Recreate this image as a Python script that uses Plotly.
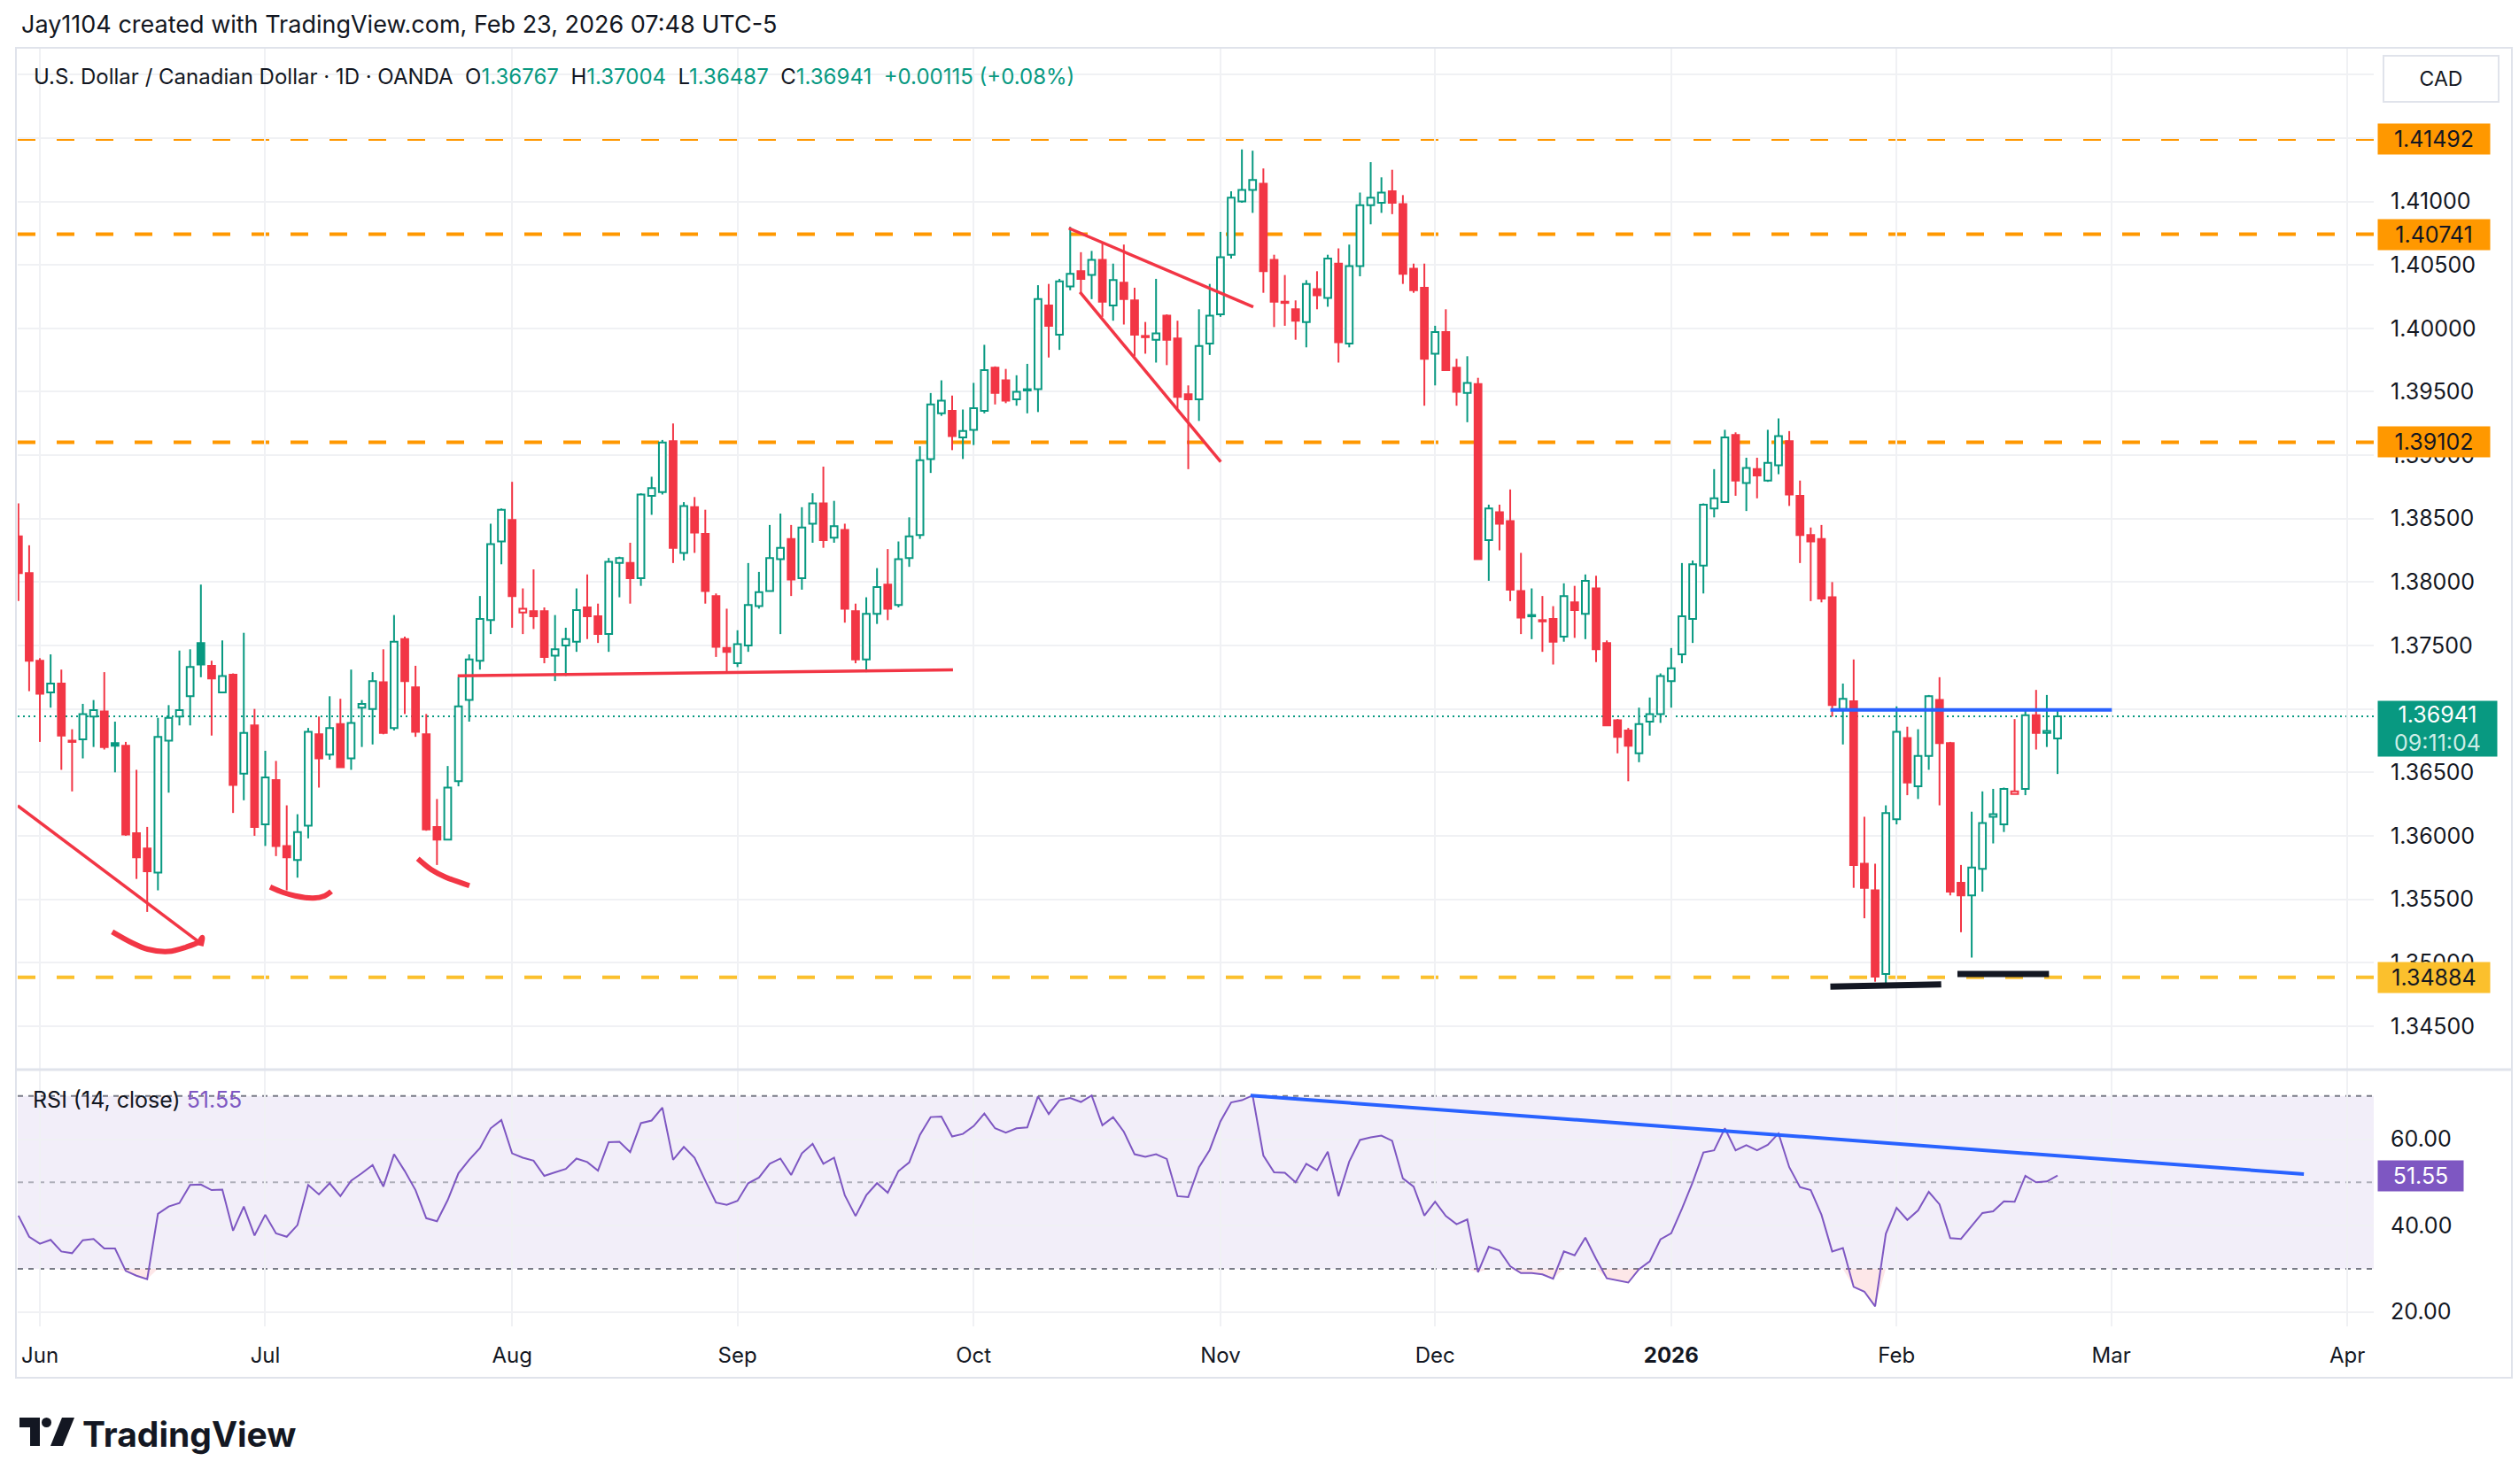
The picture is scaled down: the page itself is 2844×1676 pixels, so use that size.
import plotly.graph_objects as go
import pandas as pd

# ---------------- data ----------------
FIRST_DAY = "2025-05-29"
LAST_AXIS_DAY = "2026-04-03"
HOLIDAYS = ["2025-12-25", "2026-01-01"]

opens = [1.3836,1.3807,1.3738,1.3713,1.3720,1.3675,1.3676,1.3694,1.3698,1.3673,
1.3671,1.3602,1.3590,1.3571,1.3675,1.3694,1.3710,1.3752,1.3734,1.3713,
1.3727,1.3649,1.3687,1.3609,1.3644,1.3592,1.3581,1.3608,1.3680,1.3664,
1.3688,1.3661,1.3701,1.3700,1.3721,1.3685,1.3755,1.3717,1.3680,1.3607,
1.3597,1.3643,1.3707,1.3738,1.3770,1.3832,1.3849,1.3776,1.3777,1.3777,
1.3742,1.3750,1.3753,1.3780,1.3773,1.3759,1.3815,1.3815,1.3803,1.3868,
1.3871,1.3911,1.3823,1.3859,1.3838,1.3789,1.3748,1.3736,1.3750,1.3781,
1.3793,1.3818,1.3834,1.3803,1.3846,1.3862,1.3835,1.3841,1.3777,1.3739,
1.3775,1.3798,1.3782,1.3819,1.3837,1.3897,1.3933,1.3935,1.3914,1.3920,
1.3935,1.3969,1.3959,1.3944,1.3951,1.3952,1.4018,1.3995,1.4033,1.4045,
1.4042,1.4054,1.4018,1.4036,1.4022,1.3994,1.3991,1.4010,1.3992,1.3948,
1.3944,1.3988,1.4011,1.4058,1.4100,1.4109,1.4114,1.4054,1.4021,1.4015,
1.4005,1.4031,1.4024,1.4051,1.3988,1.4049,1.4097,1.4099,1.4108,1.4098,
1.4047,1.4032,1.3980,1.3997,1.3969,1.3949,1.3956,1.3833,1.3855,1.3848,
1.3793,1.3773,1.3770,1.3771,1.3757,1.3784,1.3775,1.3795,1.3752,1.3691,
1.3683,1.3665,1.3690,1.3696,1.3722,1.3743,1.3771,1.3813,1.3858,1.3863,
1.3916,1.3878,1.3889,1.3880,1.3892,1.3911,1.3868,1.3837,1.3834,1.3788,
1.3700,1.3706,1.3578,1.3557,1.3491,1.3613,1.3677,1.3639,1.3663,1.3707,
1.3673,1.3563,1.3553,1.3574,1.3615,1.3609,1.3633,1.3637,1.3695,1.3681,
1.36767]

highs = [1.3862,1.3829,1.3740,1.3743,1.3731,1.3684,1.3704,1.3707,1.3729,1.3690,
1.3674,1.3652,1.3607,1.3693,1.3703,1.3746,1.3747,1.3798,1.3738,1.3754,
1.3728,1.3760,1.3700,1.3667,1.3659,1.3624,1.3617,1.3685,1.3694,1.3710,
1.3708,1.3731,1.3707,1.3729,1.3747,1.3774,1.3757,1.3734,1.3696,1.3629,
1.3655,1.3725,1.3743,1.3789,1.3846,1.3858,1.3879,1.3795,1.3810,1.3780,
1.3774,1.3764,1.3795,1.3806,1.3783,1.3819,1.3820,1.3831,1.3870,1.3883,
1.3912,1.3925,1.3863,1.3867,1.3857,1.3791,1.3779,1.3762,1.3815,1.3808,
1.3845,1.3854,1.3845,1.3859,1.3870,1.3891,1.3864,1.3846,1.3783,1.3788,
1.3811,1.3826,1.3832,1.3851,1.3907,1.3949,1.3959,1.3947,1.3936,1.3957,
1.3987,1.3970,1.3968,1.3963,1.3972,1.4034,1.4035,1.4039,1.4080,1.4060,
1.4061,1.4067,1.4051,1.4066,1.4032,1.4005,1.4039,1.4011,1.4006,1.3955,
1.4015,1.4035,1.4076,1.4108,1.4141,1.4140,1.4126,1.4058,1.4042,1.4022,
1.4038,1.4045,1.4058,1.4063,1.4066,1.4107,1.4131,1.4119,1.4125,1.4105,
1.4051,1.4051,1.4002,1.4015,1.3976,1.3978,1.3961,1.3861,1.3861,1.3873,
1.3823,1.3795,1.3789,1.3781,1.3799,1.3797,1.3806,1.3805,1.3754,1.3692,
1.3685,1.3701,1.3709,1.3728,1.3748,1.3815,1.3817,1.3862,1.3889,1.3920,
1.3918,1.3898,1.3898,1.3920,1.3929,1.3919,1.3880,1.3843,1.3845,1.3800,
1.3720,1.3739,1.3615,1.3578,1.3624,1.3702,1.3686,1.3684,1.3711,1.3725,
1.3674,1.3577,1.3619,1.3635,1.3637,1.3638,1.3692,1.3700,1.3715,1.3711,
1.37004]

lows = [1.3785,1.3714,1.3674,1.3701,1.3652,1.3635,1.3661,1.3670,1.3668,1.3650,
1.3600,1.3566,1.3540,1.3557,1.3634,1.3687,1.3687,1.3725,1.3679,1.3713,
1.3618,1.3628,1.3600,1.3592,1.3584,1.3557,1.3567,1.3598,1.3638,1.3660,
1.3654,1.3652,1.3670,1.3672,1.3680,1.3683,1.3696,1.3678,1.3604,1.3577,
1.3597,1.3639,1.3690,1.3731,1.3759,1.3814,1.3764,1.3759,1.3763,1.3736,
1.3722,1.3726,1.3745,1.3755,1.3752,1.3745,1.3788,1.3783,1.3797,1.3853,
1.3869,1.3815,1.3817,1.3823,1.3783,1.3741,1.3729,1.3733,1.3745,1.3779,
1.3793,1.3759,1.3789,1.3794,1.3831,1.3827,1.3831,1.3768,1.3736,1.3729,
1.3767,1.3770,1.3780,1.3812,1.3834,1.3886,1.3931,1.3904,1.3897,1.3908,
1.3933,1.3940,1.3941,1.3939,1.3933,1.3934,1.3977,1.3983,1.4030,1.4028,
1.4023,1.4009,1.4006,1.4003,1.3978,1.3980,1.3973,1.3971,1.3937,1.3889,
1.3927,1.3979,1.4009,1.4055,1.4099,1.4091,1.4028,1.4001,1.4002,1.3991,
1.3985,1.4015,1.4017,1.3973,1.3985,1.4041,1.4082,1.4091,1.4090,1.4035,
1.4028,1.3939,1.3955,1.3967,1.3939,1.3926,1.3818,1.3801,1.3825,1.3785,
1.3759,1.3755,1.3745,1.3735,1.3753,1.3756,1.3755,1.3737,1.3687,1.3665,
1.3643,1.3658,1.3679,1.3689,1.3701,1.3736,1.3752,1.3791,1.3851,1.3863,
1.3868,1.3856,1.3866,1.3879,1.3885,1.3860,1.3815,1.3785,1.3784,1.3694,
1.3672,1.3559,1.3535,1.3485,1.3482,1.3609,1.3632,1.3629,1.3652,1.3624,
1.3553,1.3524,1.3504,1.3556,1.3594,1.3603,1.3633,1.3632,1.3668,1.3670,
1.36487]

closes = [1.3807,1.3738,1.3712,1.3720,1.3679,1.3674,1.3696,1.3699,1.3670,1.3671,
1.3601,1.3583,1.3572,1.3678,1.3693,1.3699,1.3733,1.3735,1.3724,1.3726,
1.3640,1.3681,1.3607,1.3646,1.3592,1.3583,1.3603,1.3682,1.3661,1.3685,
1.3654,1.3689,1.3704,1.3722,1.3681,1.3753,1.3722,1.3682,1.3605,1.3597,
1.3638,1.3702,1.3739,1.3771,1.3830,1.3857,1.3789,1.3779,1.3773,1.3741,
1.3747,1.3755,1.3778,1.3773,1.3759,1.3816,1.3819,1.3803,1.3869,1.3874,
1.3910,1.3827,1.3860,1.3839,1.3793,1.3749,1.3745,1.3751,1.3782,1.3792,
1.3819,1.3827,1.3802,1.3843,1.3862,1.3833,1.3844,1.3779,1.3739,1.3775,
1.3796,1.3779,1.3818,1.3836,1.3896,1.3940,1.3943,1.3915,1.3919,1.3937,
1.3967,1.3949,1.3943,1.3950,1.3952,1.4023,1.4002,1.4037,1.4043,1.4039,
1.4054,1.4021,1.4038,1.4023,1.3995,1.3993,1.3996,1.3991,1.3946,1.3944,
1.3986,1.4010,1.4056,1.4103,1.4109,1.4117,1.4045,1.4021,1.4020,1.4006,
1.4035,1.4026,1.4055,1.3989,1.4049,1.4097,1.4103,1.4107,1.4099,1.4043,
1.4030,1.3976,1.3997,1.3967,1.3950,1.3957,1.3818,1.3858,1.3846,1.3794,
1.3772,1.3774,1.3769,1.3753,1.3789,1.3778,1.3801,1.3747,1.3687,1.3678,
1.3671,1.3688,1.3696,1.3726,1.3732,1.3773,1.3814,1.3861,1.3866,1.3914,
1.3880,1.3890,1.3884,1.3894,1.3915,1.3869,1.3837,1.3832,1.3787,1.3703,
1.3708,1.3577,1.3559,1.3489,1.3618,1.3682,1.3642,1.3663,1.3710,1.3673,
1.3556,1.3553,1.3575,1.3610,1.3617,1.3637,1.3635,1.3695,1.3681,1.36826,
1.36941]

rsi = [42.3,37.4,35.8,36.7,34.0,33.6,36.6,36.9,34.7,34.7,
29.5,28.4,27.6,42.7,44.4,45.2,49.4,49.5,48.2,48.3,
38.8,44.4,37.7,42.5,38.2,37.4,40.1,49.4,47.2,49.8,
46.8,50.4,52.1,54.0,49.0,56.5,52.6,48.2,41.7,41.0,
45.9,52.1,55.2,57.9,62.5,64.4,56.7,55.7,55.0,51.5,
52.3,53.1,55.5,54.7,52.7,59.3,59.4,57.0,63.7,64.3,
67.3,55.2,58.2,55.7,50.4,45.3,44.8,45.7,49.8,51.1,
54.3,55.5,51.7,56.7,58.9,54.3,55.7,47.0,42.2,47.0,
49.8,47.6,52.6,54.6,61.0,65.1,65.2,60.6,61.2,63.0,
65.9,62.5,61.5,62.5,62.7,69.9,65.8,69.0,69.5,68.6,
70.1,63.2,65.1,61.7,56.5,55.9,56.5,55.4,46.8,46.6,
53.5,57.5,64.1,68.5,69.0,70.1,56.2,52.3,52.2,50.0,
54.3,52.8,57.1,46.8,54.8,59.8,60.4,60.8,59.6,50.9,
49.0,42.3,45.5,42.2,40.3,41.4,29.2,35.1,34.2,30.6,
29.0,29.0,28.7,27.7,34.0,33.1,37.2,32.3,27.8,27.3,
26.8,29.9,31.7,36.8,38.2,43.9,50.0,56.9,57.4,62.5,
57.4,58.6,57.4,58.7,61.3,53.5,48.9,48.2,42.5,34.0,
34.8,25.8,24.7,21.3,38.1,44.1,41.3,43.5,47.8,44.9,
37.1,36.9,39.8,42.9,43.3,45.6,45.5,51.5,50.0,50.2,
51.55]

price_ticks = [1.345, 1.350, 1.355, 1.360, 1.365, 1.370, 1.375, 1.380, 1.385,
               1.390, 1.395, 1.400, 1.405, 1.410, 1.415, 1.420]
hidden_price_ticks = [1.370, 1.415, 1.420]   # fully covered by tags in the reference
rsi_ticks = [20, 40, 60]
level_prices = [1.41492, 1.40741, 1.39102, 1.34884]
level_colors = ["#FF9800", "#FF9800", "#FF9800", "#FBC02D"]
last_price = 1.36941
countdown = "09:11:04"
last_rsi = 51.55

# user drawings (bar index, value)
red_lines = [
    ([-0.07, 16.99], [1.36237, 1.35153]),
    ([40.93, 87.08], [1.37261, 1.37308]),
    ([97.87, 115.06], [1.40789, 1.40168]),
    ([98.91, 112.03], [1.40285, 1.38947]),
]
red_curves = [
    ([8.74, 10.66, 12.04, 13.96, 15.61, 16.85, 17.13, 16.99],
     [1.35243, 1.35153, 1.35106, 1.35088, 1.35122, 1.35166, 1.35199, 1.35132]),
    ([23.45, 24.69, 25.79, 27.44, 28.55, 29.15],
     [1.35597, 1.35553, 1.35527, 1.35509, 1.35527, 1.35561]),
    ([37.21, 38.45, 39.82, 42.02], [1.35820, 1.35735, 1.35674, 1.35607]),
]
blue_line = ([168.83, 195.06], [1.36993, 1.36993])
black_lines = [([168.83, 179.16], [1.34811, 1.34829]),
               ([180.67, 189.2], [1.34911, 1.34911])]
rsi_blue_line = ([114.8, 212.95], [70.08, 51.9])

# ---------------- geometry (page pixels) ----------------
W, H = 2844, 1676
X0, X1 = 20, 2680
P_TOP, P_BOT = 55, 1207
R_TOP, R_BOT = 1209, 1498
BAR0_PX, BAR_PX = 20.8, 12.117
P_RANGE = [1.34164, 1.42204]
R_RANGE = [16.66, 75.88]

def fx(x):
    return x / W

def fy(y):
    return 1 - y / H

x_range = [(X0 - BAR0_PX) / BAR_PX, (X1 - BAR0_PX) / BAR_PX]

GREEN = "#089981"
RED = "#F23645"
TEXT = "#131722"
GRID = "#F0F1F4"
FONT = "Inter, Roboto, sans-serif"

# ---------------- dates / month ticks ----------------
days = pd.bdate_range(FIRST_DAY, LAST_AXIS_DAY)
days = days[~days.isin(pd.to_datetime(HOLIDAYS))]
n = len(closes)
xs = list(range(n))
tick_idx, tick_txt = [], []
prev_m = None
for i, d in enumerate(days):
    if d.month != prev_m:
        if prev_m is not None:
            tick_idx.append(i)
            tick_txt.append("<b>%d</b>" % d.year if d.month == 1 else d.strftime("%b"))
        prev_m = d.month
first_june = next(i for i, d in enumerate(days) if d.month == 6)
if first_june not in tick_idx:
    tick_idx.insert(0, first_june)
    tick_txt.insert(0, "Jun")

fig = go.Figure()

# ---------------- RSI fills ----------------
lo = [min(v, 30) for v in rsi]
hi = [max(v, 70) for v in rsi]
fig.add_trace(go.Scatter(x=xs, y=[30] * n, mode="lines", line=dict(width=0),
                         xaxis="x2", yaxis="y2", hoverinfo="skip"))
fig.add_trace(go.Scatter(x=xs, y=lo, mode="lines", line=dict(width=0), fill="tonexty",
                         fillcolor="rgba(242,54,69,0.12)", xaxis="x2", yaxis="y2", hoverinfo="skip"))
fig.add_trace(go.Scatter(x=xs, y=[70] * n, mode="lines", line=dict(width=0),
                         xaxis="x2", yaxis="y2", hoverinfo="skip"))
fig.add_trace(go.Scatter(x=xs, y=hi, mode="lines", line=dict(width=0), fill="tonexty",
                         fillcolor="rgba(8,153,129,0.12)", xaxis="x2", yaxis="y2", hoverinfo="skip"))
fig.add_trace(go.Scatter(x=xs, y=rsi, mode="lines", line=dict(color="#7E57C2", width=2),
                         xaxis="x2", yaxis="y2", hoverinfo="skip"))
fig.add_trace(go.Scatter(x=rsi_blue_line[0], y=rsi_blue_line[1], mode="lines",
                         line=dict(color="#2962FF", width=4), xaxis="x2", yaxis="y2"))

# ---------------- candles ----------------
cats = {"gh": [], "gf": [], "rf": [], "rh": []}
for i in range(n):
    prev = closes[i - 1] if i > 0 else opens[i]
    up = closes[i] >= prev
    hollow = closes[i] > opens[i]
    key = ("g" if up else "r") + ("h" if hollow else "f")
    cats[key].append(i)

wick = {"g": ([], []), "r": ([], [])}
for key, idxs in cats.items():
    wx, wy = wick[key[0]]
    for i in idxs:
        top = max(opens[i], closes[i])
        bot = min(opens[i], closes[i])
        wx += [i, i, None, i, i, None]
        wy += [highs[i], top, None, bot, lows[i], None]

for c, (wx, wy) in wick.items():
    fig.add_trace(go.Scatter(x=wx, y=wy, mode="lines",
                             line=dict(color=GREEN if c == "g" else RED, width=2),
                             xaxis="x", yaxis="y", hoverinfo="skip"))

for key, idxs in cats.items():
    col = GREEN if key[0] == "g" else RED
    fill = "#FFFFFF" if key[1] == "h" else col
    base = [min(opens[i], closes[i]) for i in idxs]
    size = [max(abs(closes[i] - opens[i]), 0.00004) for i in idxs]
    fig.add_trace(go.Bar(x=idxs, y=size, base=base, width=0.64,
                         marker=dict(color=fill, line=dict(color=col, width=2)),
                         xaxis="x", yaxis="y", hoverinfo="skip"))

# ---------------- drawings ----------------
for lx, ly in red_lines:
    fig.add_trace(go.Scatter(x=lx, y=ly, mode="lines", line=dict(color=RED, width=3.5),
                             xaxis="x", yaxis="y", hoverinfo="skip"))
for lx, ly in red_curves:
    fig.add_trace(go.Scatter(x=lx, y=ly, mode="lines",
                             line=dict(color=RED, width=6, shape="spline"),
                             xaxis="x", yaxis="y", hoverinfo="skip"))
fig.add_trace(go.Scatter(x=blue_line[0], y=blue_line[1], mode="lines",
                         line=dict(color="#2962FF", width=4), xaxis="x", yaxis="y"))
for lx, ly in black_lines:
    fig.add_trace(go.Scatter(x=lx, y=ly, mode="lines", line=dict(color=TEXT, width=7),
                             xaxis="x", yaxis="y", hoverinfo="skip"))

# ---------------- shapes ----------------
shapes = []
shapes.append(dict(type="rect", xref="paper", yref="y2", x0=fx(X0), x1=fx(X1), y0=30, y1=70,
                   fillcolor="rgba(126,87,194,0.10)", line=dict(width=0), layer="below"))
for v, c in [(70, "#787B86"), (50, "rgba(120,123,134,0.55)"), (30, "#787B86")]:
    shapes.append(dict(type="line", xref="paper", yref="y2", x0=fx(X0), x1=fx(X1), y0=v, y1=v,
                       line=dict(color=c, width=2, dash="6px,6px"), layer="below"))
for lv, c in zip(level_prices, level_colors):
    shapes.append(dict(type="line", xref="paper", yref="y", x0=fx(X0), x1=fx(X1), y0=lv, y1=lv,
                       line=dict(color=c, width=4, dash="20px,24px"), layer="below"))
shapes.append(dict(type="line", xref="paper", yref="y", x0=fx(X0), x1=fx(X1),
                   y0=last_price, y1=last_price,
                   line=dict(color=GREEN, width=2, dash="2px,4px"), layer="below"))
shapes.append(dict(type="rect", xref="paper", yref="paper", x0=fx(18), x1=fx(2836),
                   y0=fy(1556), y1=fy(54), line=dict(color="#E0E3EB", width=2), layer="above"))
shapes.append(dict(type="line", xref="paper", yref="paper", x0=fx(18), x1=fx(2836),
                   y0=fy(1208), y1=fy(1208), line=dict(color="#E0E3EB", width=3), layer="above"))

def path(pts):
    return "M" + " L".join("%.6f,%.6f" % (fx(a), fy(b)) for a, b in pts) + " Z"
shapes.append(dict(type="path", xref="paper", yref="paper",
                   path=path([(22, 1601), (45, 1601), (45, 1633), (34, 1633), (34, 1612), (22, 1612)]),
                   fillcolor=TEXT, line=dict(width=0)))
shapes.append(dict(type="circle", xref="paper", yref="paper",
                   x0=fx(47), x1=fx(58), y0=fy(1612), y1=fy(1601),
                   fillcolor=TEXT, line=dict(width=0)))
shapes.append(dict(type="path", xref="paper", yref="paper",
                   path=path([(57, 1633), (70, 1601), (84, 1601), (71, 1633)]),
                   fillcolor=TEXT, line=dict(width=0)))

# ---------------- annotations ----------------
ann = []
ann.append(dict(xref="paper", yref="paper", x=fx(22), y=fy(27), xanchor="left", yanchor="middle",
                text="Jay1104 created with TradingView.com, Feb 23, 2026 07:48 UTC-5",
                showarrow=False, font=dict(size=27, color=TEXT, family=FONT)))
g = lambda s: "<span style='color:%s'>%s</span>" % (GREEN, s)
chg = closes[-1] - closes[-2]
legend = ("U.S. Dollar / Canadian Dollar · 1D · OANDA&nbsp;&nbsp;O" + g("%.5f" % opens[-1]) +
          "&nbsp;&nbsp;H" + g("%.5f" % highs[-1]) + "&nbsp;&nbsp;L" + g("%.5f" % lows[-1]) +
          "&nbsp;&nbsp;C" + g("%.5f" % closes[-1]) + "&nbsp;&nbsp;" +
          g("+%.5f (+%.2f%%)" % (chg, chg / closes[-2] * 100)))
ann.append(dict(xref="paper", yref="paper", x=fx(36), y=fy(87), xanchor="left", yanchor="middle",
                text=legend, showarrow=False, font=dict(size=24, color=TEXT, family=FONT)))
ann.append(dict(xref="paper", yref="paper", x=fx(35), y=fy(1242), xanchor="left", yanchor="middle",
                text="RSI (14, close) <span style='color:#7E57C2'>%.2f</span>" % last_rsi,
                showarrow=False, font=dict(size=25, color=TEXT, family=FONT)))
ann.append(dict(xref="paper", yref="paper", x=fx(91), y=fy(1619), xanchor="left", yanchor="middle",
                text="<b>TradingView</b>", showarrow=False,
                font=dict(size=39, color=TEXT, family=FONT)))
ann.append(dict(xref="paper", yref="paper", x=fx(2690), y=fy(62), xanchor="left", yanchor="top",
                text="CAD", showarrow=False, width=126, height=48, bgcolor="#FFFFFF",
                bordercolor="#E0E3EB", borderwidth=2, font=dict(size=23, color=TEXT, family=FONT)))
for lv, c in zip(level_prices, level_colors):
    ann.append(dict(xref="paper", yref="y", x=fx(2684), y=lv, xanchor="left", yanchor="middle",
                    text="%.5f" % lv, showarrow=False, width=124, height=32, bgcolor=c,
                    font=dict(size=25, color=TEXT, family=FONT)))
ann.append(dict(xref="paper", yref="y", x=fx(2684), y=last_price, xanchor="left", yanchor="top",
                yshift=18, text="%.5f<br><span style='color:#CDEDE6'>%s</span>" % (last_price, countdown),
                showarrow=False, width=132, height=60, bgcolor=GREEN,
                font=dict(size=25, color="#FFFFFF", family=FONT)))
ann.append(dict(xref="paper", yref="y2", x=fx(2684), y=last_rsi, xanchor="left", yanchor="middle",
                text="%.2f" % last_rsi, showarrow=False, width=94, height=32, bgcolor="#7E57C2",
                font=dict(size=25, color="#FFFFFF", family=FONT)))

price_labels = ["" if any(abs(t - h) < 1e-9 for h in hidden_price_ticks) else "%.5f" % t
                for t in price_ticks]

fig.update_layout(
    width=W, height=H, autosize=False,
    margin=dict(l=0, r=0, t=0, b=0),
    paper_bgcolor="#FFFFFF", plot_bgcolor="#FFFFFF",
    showlegend=False, barmode="overlay", hovermode=False,
    font=dict(family=FONT, color=TEXT),
    shapes=shapes, annotations=ann,
    xaxis=dict(domain=[fx(X0), fx(X1)], range=x_range, anchor="y",
               tickvals=tick_idx, showticklabels=False, showgrid=True, gridcolor=GRID,
               gridwidth=2, zeroline=False, showline=False, ticks=""),
    yaxis=dict(domain=[fy(P_BOT), fy(P_TOP)], range=P_RANGE, anchor="x", side="right",
               tickvals=price_ticks, ticktext=price_labels,
               showgrid=True, gridcolor=GRID, gridwidth=2, zeroline=False, ticks="",
               ticklabelstandoff=18, tickfont=dict(size=25, color=TEXT, family=FONT)),
    xaxis2=dict(domain=[fx(X0), fx(X1)], range=x_range, anchor="y2",
                tickvals=tick_idx, ticktext=tick_txt, showgrid=True, gridcolor=GRID,
                gridwidth=2, zeroline=False, showline=False, ticks="", ticklabelstandoff=16,
                tickfont=dict(size=24, color=TEXT, family=FONT)),
    yaxis2=dict(domain=[fy(R_BOT), fy(R_TOP)], range=R_RANGE, anchor="x2", side="right",
                tickvals=rsi_ticks, ticktext=["%.2f" % t for t in rsi_ticks],
                showgrid=True, gridcolor=GRID, gridwidth=2, zeroline=False, ticks="",
                ticklabelstandoff=18, tickfont=dict(size=25, color=TEXT, family=FONT)),
)

fig.write_html("out.html", config={"displayModeBar": False},
               post_script="document.body.style.margin='0';document.body.style.overflow='hidden';")
